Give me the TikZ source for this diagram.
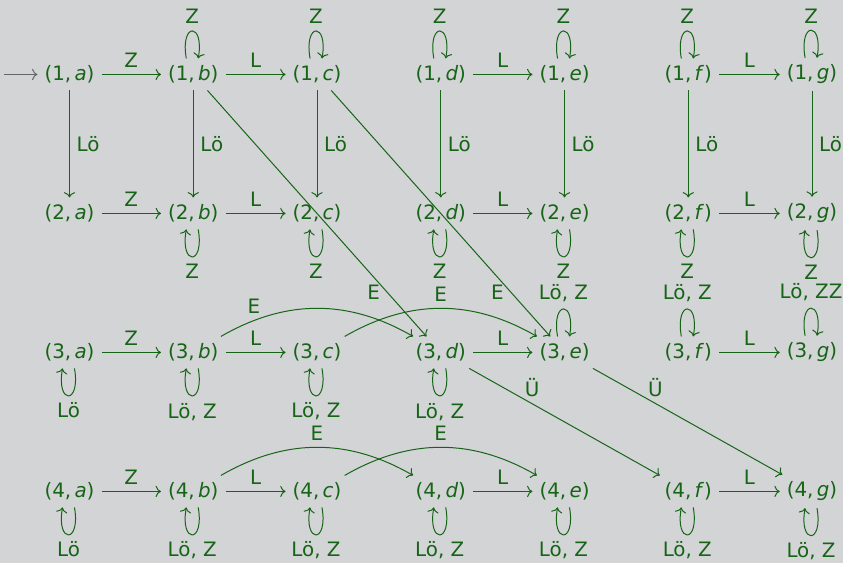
\documentclass[tikz,border=0pt]{standalone}
\usepackage{fontspec}
\setmainfont{DejaVu Sans}
\usetikzlibrary{positioning,arrows.meta}
\definecolor{bggray}{RGB}{211,212,214}
\definecolor{stgreen}{RGB}{22,100,22}

\begin{document}
\begin{tikzpicture}[node distance=70pt and 62.33pt, on grid, >={To},
  color=stgreen, line width=0.5pt,
  trans/.style={->},
  selfup/.style={->, out=100, in=80, looseness=8},
  selfdown/.style={->, out=-80, in=-100, looseness=8}]
  \fill[bggray] (0,0) rectangle (424.5pt,-283.5pt);

  % states
  \node (q1a) at (35pt,-37.5pt) {(1,\,\textit{a})};
  \node[right=of q1a] (q1b) {(1,\,\textit{b})};
  \node[right=of q1b] (q1c) {(1,\,\textit{c})};
  \node[right=of q1c] (q1d) {(1,\,\textit{d})};
  \node[right=of q1d] (q1e) {(1,\,\textit{e})};
  \node[right=of q1e] (q1f) {(1,\,\textit{f})};
  \node[right=of q1f] (q1g) {(1,\,\textit{g})};

  \node[below=of q1a] (q2a) {(2,\,\textit{a})};
  \node[right=of q2a] (q2b) {(2,\,\textit{b})};
  \node[right=of q2b] (q2c) {(2,\,\textit{c})};
  \node[right=of q2c] (q2d) {(2,\,\textit{d})};
  \node[right=of q2d] (q2e) {(2,\,\textit{e})};
  \node[right=of q2e] (q2f) {(2,\,\textit{f})};
  \node[right=of q2f] (q2g) {(2,\,\textit{g})};

  \node[below=of q2a] (q3a) {(3,\,\textit{a})};
  \node[right=of q3a] (q3b) {(3,\,\textit{b})};
  \node[right=of q3b] (q3c) {(3,\,\textit{c})};
  \node[right=of q3c] (q3d) {(3,\,\textit{d})};
  \node[right=of q3d] (q3e) {(3,\,\textit{e})};
  \node[right=of q3e] (q3f) {(3,\,\textit{f})};
  \node[right=of q3f] (q3g) {(3,\,\textit{g})};

  \node[below=of q3a] (q4a) {(4,\,\textit{a})};
  \node[right=of q4a] (q4b) {(4,\,\textit{b})};
  \node[right=of q4b] (q4c) {(4,\,\textit{c})};
  \node[right=of q4c] (q4d) {(4,\,\textit{d})};
  \node[right=of q4d] (q4e) {(4,\,\textit{e})};
  \node[right=of q4e] (q4f) {(4,\,\textit{f})};
  \node[right=of q4f] (q4g) {(4,\,\textit{g})};

  \coordinate (init) at (2pt,-37.5pt);
  \draw[trans,draw=black!60] (init) -- (q1a);

  % row 1
  \draw[trans] (q1a) -- node[above] {Z} (q1b);
  \draw[trans] (q1b) -- node[above] {L} (q1c);
  \draw[trans] (q1d) -- node[above] {L} (q1e);
  \draw[trans] (q1f) -- node[above] {L} (q1g);
  \draw[selfup] ([xshift=-3.5pt]q1b.north) to node[above] {Z} ([xshift=2.5pt]q1b.north);
  \draw[selfup] ([xshift=-3.5pt]q1c.north) to node[above] {Z} ([xshift=2.5pt]q1c.north);
  \draw[selfup] ([xshift=-3.5pt]q1d.north) to node[above] {Z} ([xshift=2.5pt]q1d.north);
  \draw[selfup] ([xshift=-3.5pt]q1e.north) to node[above] {Z} ([xshift=2.5pt]q1e.north);
  \draw[selfup] ([xshift=-3.5pt]q1f.north) to node[above] {Z} ([xshift=2.5pt]q1f.north);
  \draw[selfup] ([xshift=-3.5pt]q1g.north) to node[above] {Z} ([xshift=2.5pt]q1g.north);
  \draw[trans] (q1a) -- node[right] {Lö} (q2a);
  \draw[trans] (q1b) -- node[right] {Lö} (q2b);
  \draw[trans] (q1c) -- node[right] {Lö} (q2c);
  \draw[trans] (q1d) -- node[right] {Lö} (q2d);
  \draw[trans] (q1e) -- node[right] {Lö} (q2e);
  \draw[trans] (q1f) -- node[right] {Lö} (q2f);
  \draw[trans] (q1g) -- node[right] {Lö} (q2g);
  \draw[trans] (q1b) -- node[pos=0.82,left] {E} (q3d);
  \draw[trans] (q1c) -- node[pos=0.82,left] {E} (q3e);

  % row 2
  \draw[trans] (q2a) -- node[above] {Z} (q2b);
  \draw[trans] (q2b) -- node[above] {L} (q2c);
  \draw[trans] (q2d) -- node[above] {L} (q2e);
  \draw[trans] (q2f) -- node[above] {L} (q2g);
  \draw[selfdown] ([xshift=2.5pt]q2b.south) to node[below] {Z} ([xshift=-3.5pt]q2b.south);
  \draw[selfdown] ([xshift=2.5pt]q2c.south) to node[below] {Z} ([xshift=-3.5pt]q2c.south);
  \draw[selfdown] ([xshift=2.5pt]q2d.south) to node[below] {Z} ([xshift=-3.5pt]q2d.south);
  \draw[selfdown] ([xshift=2.5pt]q2e.south) to node[below] {Z} ([xshift=-3.5pt]q2e.south);
  \draw[selfdown] ([xshift=2.5pt]q2f.south) to node[below] {Z} ([xshift=-3.5pt]q2f.south);
  \draw[selfdown] ([xshift=2.5pt]q2g.south) to node[below] {Z} ([xshift=-3.5pt]q2g.south);

  % row 3
  \draw[trans] (q3a) -- node[above] {Z} (q3b);
  \draw[trans] (q3b) -- node[above] {L} (q3c);
  \draw[trans] (q3d) -- node[above] {L} (q3e);
  \draw[trans] (q3f) -- node[above] {L} (q3g);
  \draw[selfdown] ([xshift=2.5pt]q3a.south) to node[below] {Lö} ([xshift=-3.5pt]q3a.south);
  \draw[selfdown] ([xshift=2.5pt]q3b.south) to node[below] {Lö, Z} ([xshift=-3.5pt]q3b.south);
  \draw[selfdown] ([xshift=2.5pt]q3c.south) to node[below] {Lö, Z} ([xshift=-3.5pt]q3c.south);
  \draw[selfdown] ([xshift=2.5pt]q3d.south) to node[below] {Lö, Z} ([xshift=-3.5pt]q3d.south);
  \draw[selfup] ([xshift=-3.5pt]q3e.north) to node[above] {Lö, Z} ([xshift=2.5pt]q3e.north);
  \draw[selfup] ([xshift=-3.5pt]q3f.north) to node[above] {Lö, Z} ([xshift=2.5pt]q3f.north);
  \draw[selfup] ([xshift=-3.5pt]q3g.north) to node[above] {Lö, ZZ} ([xshift=2.5pt]q3g.north);
  \draw[trans] (q3b) to[bend left] node[pos=0.17,above] {E} (q3d);
  \draw[trans] (q3c) to[bend left] node[above] {E} (q3e);
  \draw[trans] (q3d) -- node[pos=0.33,above] {Ü} (q4f);
  \draw[trans] (q3e) -- node[pos=0.33,above] {Ü} (q4g);

  % row 4
  \draw[trans] (q4a) -- node[above] {Z} (q4b);
  \draw[trans] (q4b) -- node[above] {L} (q4c);
  \draw[trans] (q4d) -- node[above] {L} (q4e);
  \draw[trans] (q4f) -- node[above] {L} (q4g);
  \draw[selfdown] ([xshift=2.5pt]q4a.south) to node[below] {Lö} ([xshift=-3.5pt]q4a.south);
  \draw[selfdown] ([xshift=2.5pt]q4b.south) to node[below] {Lö, Z} ([xshift=-3.5pt]q4b.south);
  \draw[selfdown] ([xshift=2.5pt]q4c.south) to node[below] {Lö, Z} ([xshift=-3.5pt]q4c.south);
  \draw[selfdown] ([xshift=2.5pt]q4d.south) to node[below] {Lö, Z} ([xshift=-3.5pt]q4d.south);
  \draw[selfdown] ([xshift=2.5pt]q4e.south) to node[below] {Lö, Z} ([xshift=-3.5pt]q4e.south);
  \draw[selfdown] ([xshift=2.5pt]q4f.south) to node[below] {Lö, Z} ([xshift=-3.5pt]q4f.south);
  \draw[selfdown] ([xshift=2.5pt]q4g.south) to node[below] {Lö, Z} ([xshift=-3.5pt]q4g.south);
  \draw[trans] (q4b) to[bend left] node[above] {E} (q4d);
  \draw[trans] (q4c) to[bend left] node[above] {E} (q4e);
\end{tikzpicture}
\end{document}
